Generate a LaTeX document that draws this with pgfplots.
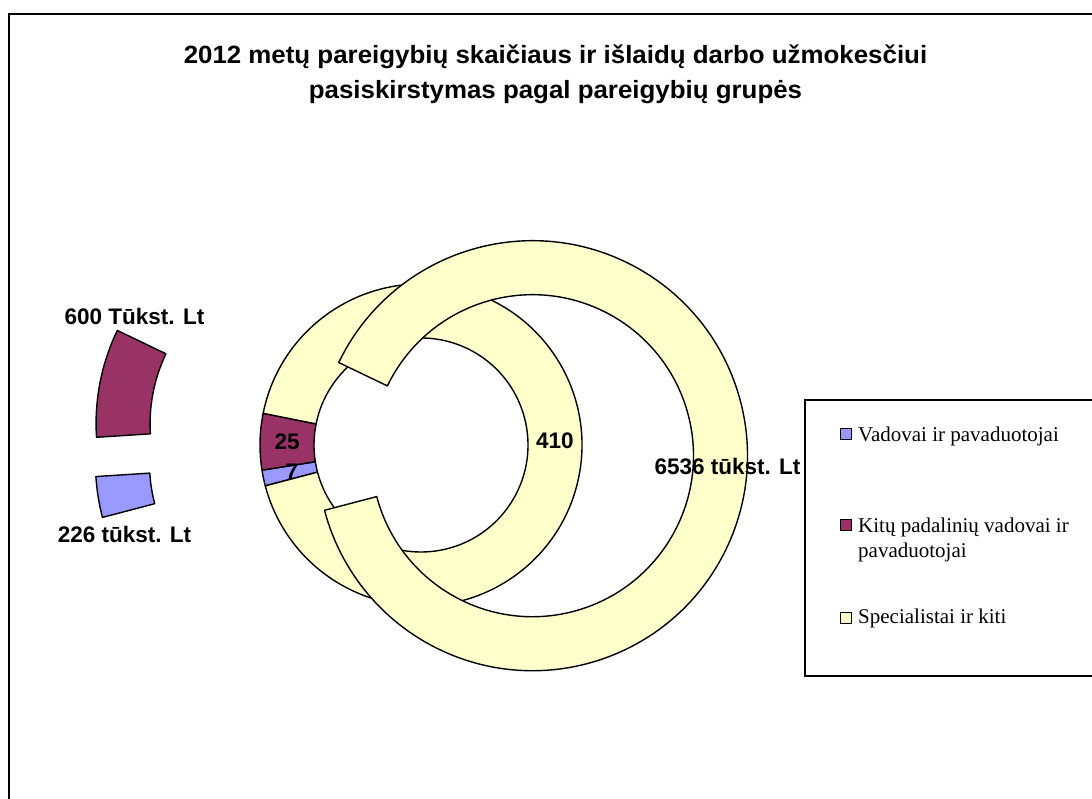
\documentclass[border=0pt]{standalone}
\usepackage{fontspec}
\setmainfont{Liberation Serif}
\newfontfamily\arial{Liberation Sans}
\usepackage{graphicx}
\usepackage{pgfplots}
\usepackage{pgfplotstable}
\pgfplotsset{compat=1.18}
\usetikzlibrary{calc}

\definecolor{cBlue}{HTML}{9999FF}
\definecolor{cMaroon}{HTML}{993366}
\definecolor{cYellow}{HTML}{FFFFCC}

\pgfplotstableread{
group count pay
1 7 226
2 25 600
3 410 6536
}\donut

\begin{document}
\begin{tikzpicture}
\path[use as bounding box] (0,0) rectangle (1092pt,799pt);
\pgfplotstablegetelem{0}{count}\of\donut\edef\nA{\pgfplotsretval}
\pgfplotstablegetelem{1}{count}\of\donut\edef\nB{\pgfplotsretval}
\pgfplotstablegetelem{2}{count}\of\donut\edef\nC{\pgfplotsretval}
\pgfplotstablegetelem{0}{pay}\of\donut\edef\pA{\pgfplotsretval}
\pgfplotstablegetelem{1}{pay}\of\donut\edef\pB{\pgfplotsretval}
\pgfplotstablegetelem{2}{pay}\of\donut\edef\pC{\pgfplotsretval}
\pgfmathsetmacro\totN{\nA+\nB+\nC}
\pgfmathsetmacro\totP{\pA+\pB+\pC}
\def\dnstart{194.7}
\pgfmathsetmacro\iA{\dnstart}
\pgfmathsetmacro\iB{\iA-\nA/\totN*360}
\pgfmathsetmacro\iC{\iB-\nB/\totN*360}
\pgfmathsetmacro\iD{\iC-\nC/\totN*360}
\pgfmathsetmacro\oA{\dnstart}
\pgfmathsetmacro\oB{\oA-\pA/\totP*360}
\pgfmathsetmacro\oC{\oB-\pB/\totP*360}
\pgfmathsetmacro\oD{\oC-\pC/\totP*360}
\pgfmathsetmacro\bisA{(\oA+\oB)/2}
\pgfmathsetmacro\bisB{(\oB+\oC)/2}
\pgfmathsetmacro\bisC{(\oC+\oD)/2}
\pgfmathsetmacro\lbA{(\iA+\iB)/2}
\pgfmathsetmacro\lbB{(\iB+\iC)/2}
\pgfmathsetmacro\lbC{(\iC+\iD)/2}
\newcommand\sector[6]{% center, a1, a2, rin, rout, colour
  \filldraw[fill=#6, draw=black, line width=1.4pt, line join=round]
    ($#1+(#2:#5pt)$) arc[start angle=#2, end angle=#3, radius=#5pt]
    -- ($#1+(#3:#4pt)$) arc[start angle=#3, end angle=#2, radius=#4pt] -- cycle;}
\begin{axis}[at={(0,0)}, anchor=south west, scale only axis,
  width=1092pt, height=799pt, xmin=0, xmax=1092, ymin=0, ymax=799,
  hide axis, clip=false]
% frame
\draw[line width=1.8pt] (axis cs:9,-20) -- (axis cs:9,785) -- (axis cs:1110,785);
% title
\node[anchor=base, inner sep=0pt, font=\arial\bfseries\fontsize{25}{30}\selectfont]
  at (axis cs:555.5,735) {\scalebox{1.035}[1]{2012 metų pareigybių skaičiaus ir išlaidų darbo užmokesčiui}};
\node[anchor=base, inner sep=0pt, font=\arial\bfseries\fontsize{25}{30}\selectfont]
  at (axis cs:555.5,700) {\scalebox{1.035}[1]{pasiskirstymas pagal pareigybių grupės}};
% inner ring (counts)
\coordinate (C0) at (axis cs:421,354);
\sector{(C0)}{\iA}{\iB}{107}{161}{cBlue}
\sector{(C0)}{\iB}{\iC}{107}{161}{cMaroon}
\sector{(C0)}{\iC}{\iD}{107}{161}{cYellow}
% outer ring (pay), exploded
\coordinate (CA) at ($(axis cs:421,354)+(\bisA:112pt)$);
\coordinate (CB) at ($(axis cs:421,354)+(\bisB:112pt)$);
\coordinate (CC) at ($(axis cs:421,354)+(\bisC:112pt)$);
\sector{(CA)}{\oA}{\oB}{161}{215}{cBlue}
\sector{(CB)}{\oB}{\oC}{161}{215}{cMaroon}
\sector{(CC)}{\oC}{\oD}{161}{215}{cYellow}
% data labels
\tikzset{lab/.style={font=\arial\bfseries\fontsize{22.5}{26}\selectfont, inner sep=0pt}}
\node[lab] at ($(C0)+(\lbA:132pt)$) {\nA};
\node[lab] at ($(C0)+(\lbB:134pt)$) {\nB};
\node[lab] at ($(C0)+(\lbC:134pt)$) {\nC};
\node[lab, anchor=base] at (axis cs:124.5,256) {\pA\ tūkst. Lt};
\node[lab, anchor=base] at (axis cs:134.5,474) {\pB\ Tūkst. Lt};
\node[lab, anchor=base] at (axis cs:727.5,324) {\pC\ tūkst. Lt};
% legend
\draw[line width=1.5pt] (axis cs:1110,399) -- (axis cs:805,399) -- (axis cs:805,123) -- (axis cs:1110,123);
\tikzset{leg/.style={font=\fontsize{21}{24}\selectfont, inner sep=0pt, anchor=base west}}
\filldraw[fill=cBlue, draw=black, line width=1pt] (axis cs:840,359) rectangle (axis cs:851,370);
\node[leg] at (axis cs:858,357.5) {Vadovai ir pavaduotojai};
\filldraw[fill=cMaroon, draw=black, line width=1pt] (axis cs:840,268) rectangle (axis cs:851,279);
\node[leg] at (axis cs:858,266) {Kitų padalinių vadovai ir};
\node[leg] at (axis cs:858,241.5) {pavaduotojai};
\filldraw[fill=cYellow, draw=black, line width=1pt] (axis cs:840,175) rectangle (axis cs:851,186);
\node[leg] at (axis cs:858,175) {Specialistai ir kiti};
\end{axis}
\end{tikzpicture}
\end{document}
